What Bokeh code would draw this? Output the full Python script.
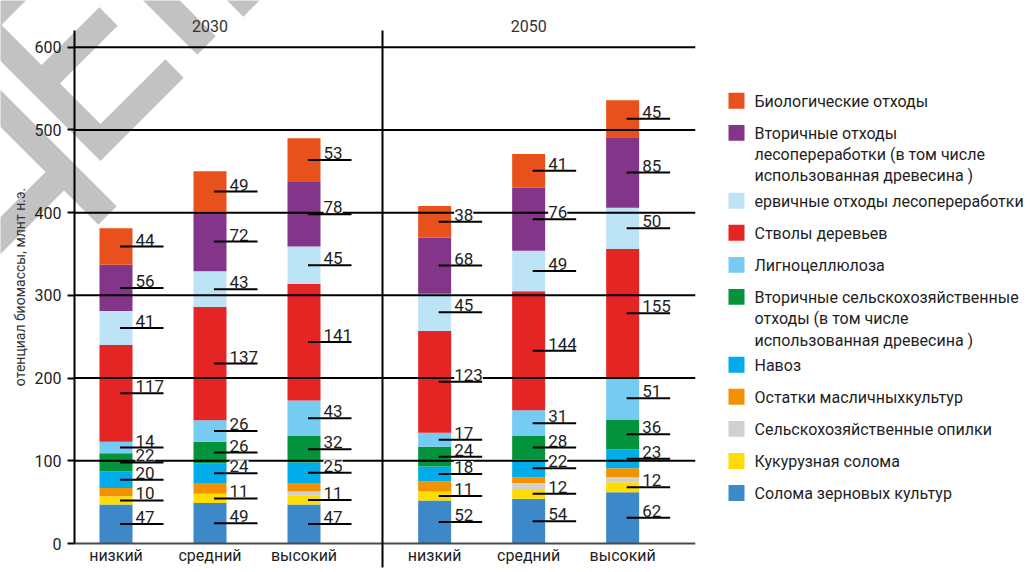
import numpy as np
from bokeh.plotting import figure
from bokeh.models import Range1d, FixedTicker, ColumnDataSource, LinearAxis
from bokeh.layouts import row
from bokeh.embed import file_html
from bokeh.resources import INLINE
from bokeh.core.properties import value

# ---------------------------------------------------------------- data
years = ["2030", "2050"]
scenarios = ["низкий", "средний", "высокий"]
y_ticks = [0, 100, 200, 300, 400, 500, 600]

# one value per bar: 2030 низкий/средний/высокий, 2050 низкий/средний/высокий
cereal_straw = [47, 49, 47, 52, 54, 62]
corn_straw = [10, 11, 11, 11, 12, 12]
agri_sawdust = [0, 0, 5, 0, 7, 6]
oilseed_residue = [10, 13, 10, 12, 7, 11]
manure = [20, 24, 25, 18, 22, 23]
secondary_agri = [22, 26, 32, 24, 28, 36]
lignocellulose = [14, 26, 43, 17, 31, 51]
stemwood = [117, 137, 141, 123, 144, 155]
primary_forest = [41, 43, 45, 45, 49, 50]
secondary_forest = [56, 72, 78, 68, 76, 85]
bio_waste = [44, 49, 53, 38, 41, 45]

# stacking order, bottom to top: key, values, colour, legend text, value label shown
series = [
    ("cereal_straw", cereal_straw, "#3d88c9", "Солома зерновых культур", True),
    ("corn_straw", corn_straw, "#ffdd00", "Кукурузная солома", True),
    ("agri_sawdust", agri_sawdust, "#d0d0d0", "Сельскохозяйственные опилки", False),
    ("oilseed_residue", oilseed_residue, "#f39200", "Остатки масличныхкультур", False),
    ("manure", manure, "#00adea", "Навоз", True),
    ("secondary_agri", secondary_agri, "#03933b",
     "Вторичные сельскохозяйственные\nотходы (в том числе\nиспользованная древесина )", True),
    ("lignocellulose", lignocellulose, "#76cbf2", "Лигноцеллюлоза", True),
    ("stemwood", stemwood, "#e42524", "Стволы деревьев", True),
    ("primary_forest", primary_forest, "#bde3f7", "ервичные отходы лесопереработки", True),
    ("secondary_forest", secondary_forest, "#833689",
     "Вторичные отходы\nлесопереработки (в том числе\nиспользованная древесина )", True),
    ("bio_waste", bio_waste, "#e9511c", "Биологические отходы", True),
]

y_label = "отенциал биомассы, млнт н.э."

# ---------------------------------------------------------------- layout constants
FONT = "Roboto"
TXT = "#1e1e1e"
PX = 1.0 / 94.0              # one screen pixel in x data units
K = 496.3 / 600.0            # screen pixels per y unit
BASE = 543                   # canvas row of y = 0
ORIGIN = 115.5               # canvas column of the first bar centre
PANEL_STEP = 3.39            # x shift between the two year panels
DIVIDER_X = (382 - ORIGIN) * PX
AXIS_X = (74 - ORIGIN) * PX
BAR_W = 33 * PX
Y_TOP = (BASE - 30) / K

def cx(px):
    return (np.asarray(px, dtype=float) - ORIGIN) * PX

def cy(py):
    return (BASE - np.asarray(py, dtype=float)) / K

xpos = [p * PANEL_STEP + i for p in range(len(years)) for i in range(len(scenarios))]

x_start, x_end = cx(0), cx(695)
y_start, y_end = cy(568), cy(0)

p = figure(width=710, height=572, output_backend="svg", toolbar_location=None,
           x_range=Range1d(x_start, x_end), y_range=Range1d(y_start, y_end),
           x_axis_location=None, y_axis_location=None, min_border_left=0,
           min_border_right=15, min_border_top=0, min_border_bottom=4)
p.outline_line_color = None
p.grid.visible = False
p.background_fill_color = "white"
p.border_fill_color = "white"

# faint grey stamp in the upper-left corner (outlined in canvas pixels)
def band(points, w):
    pts = np.array(points, dtype=float)
    norms = []
    for a, b in zip(pts[:-1], pts[1:]):
        d = (b - a) / np.linalg.norm(b - a)
        norms.append(np.array([-d[1], d[0]]))
    left, right = [], []
    for i, pt in enumerate(pts):
        if i == 0:
            n, s = norms[0], 1.0
        elif i == len(pts) - 1:
            n, s = norms[-1], 1.0
        else:
            n = norms[i - 1] + norms[i]
            n = n / np.linalg.norm(n)
            s = 1.0 / np.dot(n, norms[i])
        left.append(pt + n * w / 2 * s)
        right.append(pt - n * w / 2 * s)
    poly = np.array(left + right[::-1])
    return list(cx(poly[:, 0])), list(cy(poly[:, 1]))

stamp = [
    [(140, -21), (206, 45)],
    [(222, -23), (252, 7)],
    [(-25, 32), (32, -25)],
    [(108, 16), (41, 83)],
    [(-25, 17), (100, 142), (174, 68)],
    [(-20, 88), (107, 215)],
    [(70, 165), (-20, 255)],
]
sx, sy = zip(*[band(pts, 26) for pts in stamp])
p.patches(xs=list(sx), ys=list(sy), fill_color="#c2c2c2", line_color=None)

# stacked bars
src = ColumnDataSource(dict(x=xpos, **{k: v for k, v, *_ in series}))
p.vbar_stack([k for k, *_ in series], x="x", width=BAR_W, source=src,
             color=[c for _, _, c, _, _ in series], line_color=None)

# horizontal rules drawn over the bars
grid_vals = y_ticks[1:]
p.segment(x0=[AXIS_X] * len(grid_vals), y0=grid_vals,
          x1=[x_end] * len(grid_vals), y1=grid_vals, line_color="black", line_width=2)
p.segment(x0=[AXIS_X], y0=[0], x1=[x_end], y1=[0], line_color="#4a4a4a", line_width=2)
p.segment(x0=[DIVIDER_X], y0=[cy(567)], x1=[DIVIDER_X], y1=[Y_TOP],
          line_color="black", line_width=2)

# value labels sitting on their leader lines
lab_x, lab_y, lab_t = [], [], []
cum = np.zeros(len(xpos))
for key, vals, color, name, labelled in series:
    vals = np.array(vals, dtype=float)
    if labelled:
        for i, xv in enumerate(xpos):
            lab_x.append(xv)
            lab_y.append(cum[i] + vals[i] / 2)
            lab_t.append(str(int(vals[i])))
    cum += vals
lab_x = np.array(lab_x)
p.text(x=lab_x + 19.5 * PX, y=lab_y, text=lab_t, text_align="left",
       text_baseline="middle", y_offset=-7, text_font=value(FONT), text_font_size="17px",
       text_color=TXT, background_fill_color="white")
p.segment(x0=lab_x + 4 * PX, y0=lab_y, x1=lab_x + 47.5 * PX, y1=lab_y,
          line_color="black", line_width=2)

# scenario names under the bars and year headers
p.text(x=xpos, y=[cy(555)] * len(xpos), text=scenarios * len(years),
       text_align="center", text_baseline="middle", text_font=value(FONT),
       text_font_size="16px", text_color=TXT)
p.text(x=[j * PANEL_STEP + 1 for j in range(len(years))], y=[cy(25)] * len(years),
       text=years, text_align="center", text_baseline="middle", text_font=value(FONT),
       text_font_size="16px", text_color="#333333")

# y axis, pinned at its place inside the frame
ax = LinearAxis(fixed_location=AXIS_X)
ax.ticker = FixedTicker(ticks=y_ticks)
ax.bounds = (0, Y_TOP)
ax.axis_line_width = 2
ax.axis_line_color = "black"
ax.major_tick_out = 7
ax.major_tick_in = 0
ax.major_tick_line_width = 2
ax.minor_tick_line_color = None
ax.major_label_standoff = 6
ax.major_label_text_font = FONT
ax.major_label_text_font_size = "16px"
ax.major_label_text_color = TXT
ax.axis_label = y_label
ax.axis_label_text_font = FONT
ax.axis_label_text_font_size = "14px"
ax.axis_label_text_font_style = "normal"
ax.axis_label_text_color = "#333333"
ax.axis_label_standoff = 4
p.add_layout(ax, "left")

# ---------------------------------------------------------------- legend panel
leg = figure(width=323, height=572, output_backend="svg", toolbar_location=None,
             x_range=Range1d(0, 323), y_range=Range1d(572, 0),
             x_axis_location=None, y_axis_location=None, min_border=0)
leg.outline_line_color = None
leg.grid.visible = False

entries = series[::-1]
ly, y = [], 101.0
for key, vals, color, name, labelled in entries:
    ly.append(y)
    y += 32.3 + 18 * name.count("\n")
leg.rect(x=[26] * len(entries), y=ly, width=16, height=16,
         color=[c for _, _, c, _, _ in entries], line_color=None)
leg.text(x=[44] * len(entries), y=[v - 9 for v in ly], text=[n for _, _, _, n, _ in entries],
         text_align="left", text_baseline="top", text_font=value(FONT),
         text_font_size="16px", text_line_height=1.12, text_color=TXT)

layout = row(p, leg)
open("out.html", "w").write(file_html(layout, INLINE))
